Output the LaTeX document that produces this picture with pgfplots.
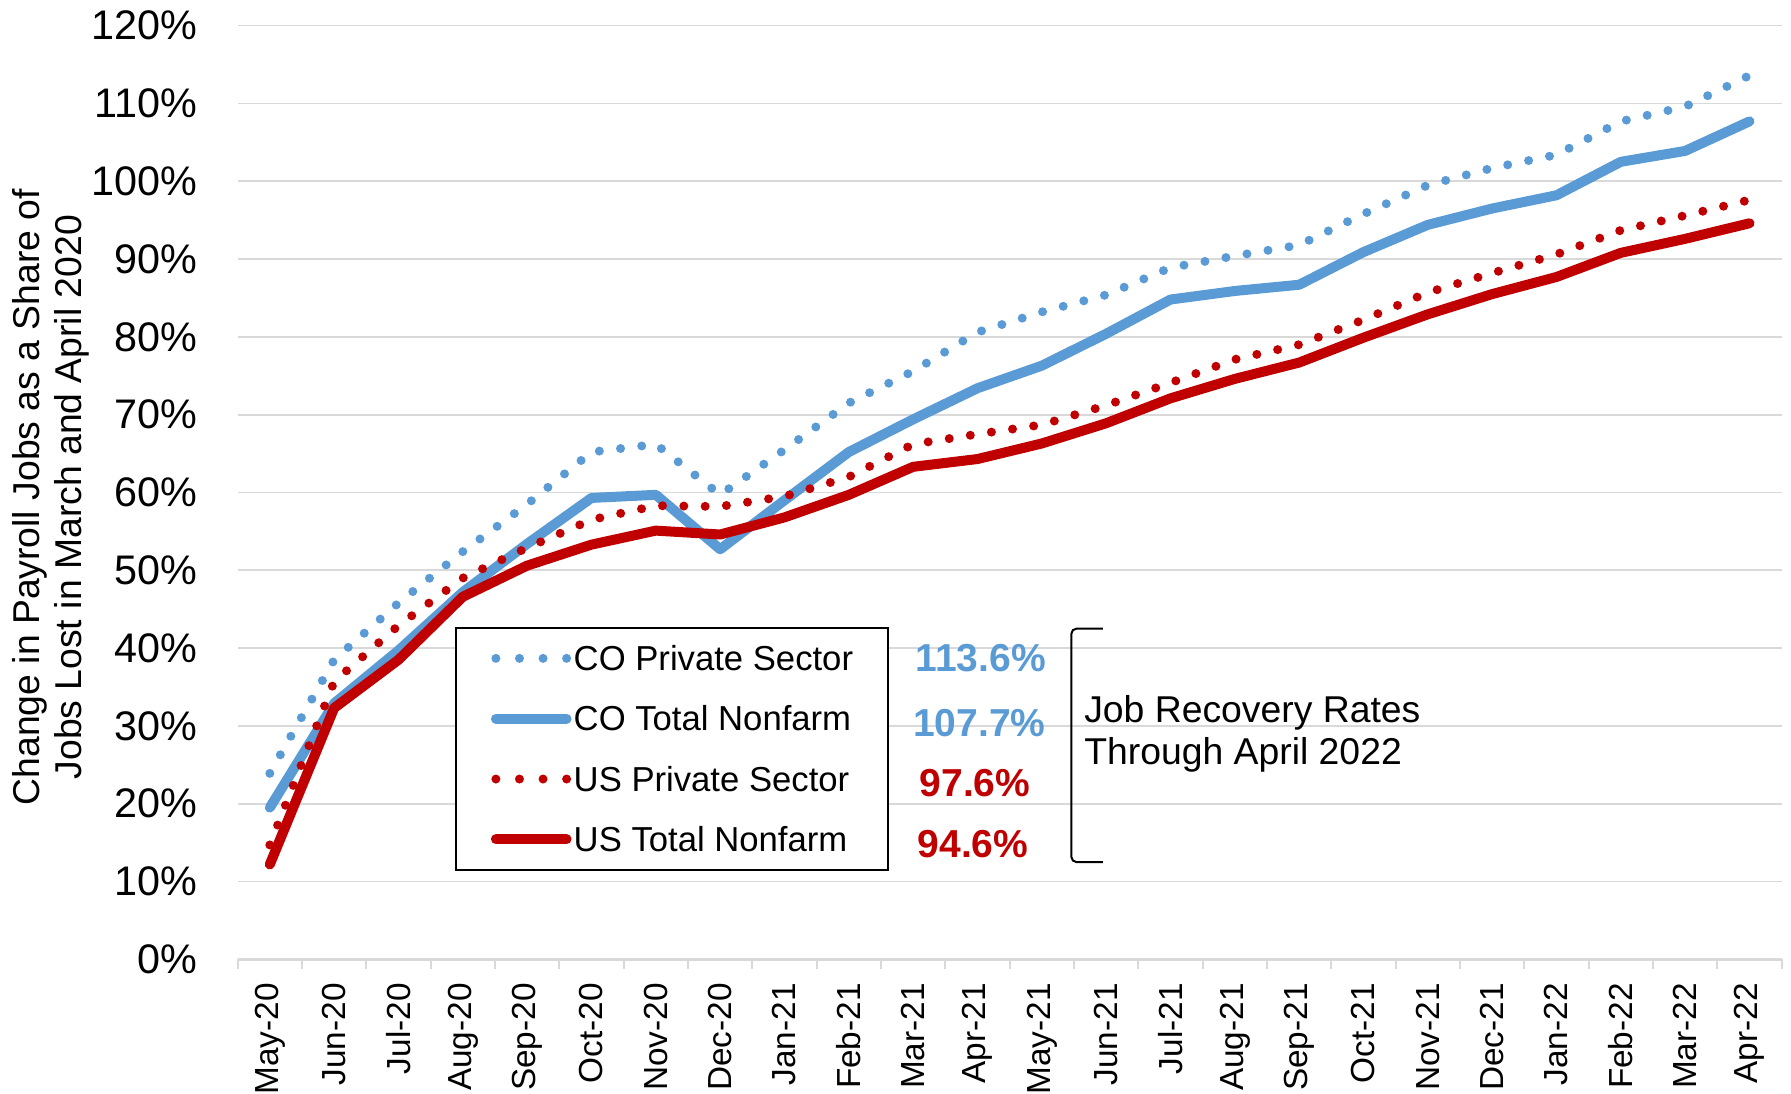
\documentclass[border=0pt]{standalone}
\usepackage{fontspec}
\setmainfont{Liberation Sans}
\usepackage{pgfplots}
\pgfplotsset{compat=1.18}
\definecolor{cblue}{HTML}{5B9BD5}
\definecolor{cred}{HTML}{C00000}
\definecolor{gridc}{HTML}{D9D9D9}
\pgfplotsset{dotleg/.style={legend image code/.code={\draw[##1, dash pattern=on 0pt off 7.07pt] (0pt,0pt) -- (21.4pt,0pt);}}}
\begin{document}
\begin{tikzpicture}
\path[use as bounding box] (-71.3pt,-40.35pt) rectangle (466pt,287.8pt);
\begin{axis}[
  scale only axis, width=463.2pt, height=280.1pt,
  at={(0pt,0pt)}, anchor=south west,
  xmin=-0.5, xmax=23.5, ymin=0, ymax=120,
  axis x line*=bottom, axis y line*=left,
  y axis line style={draw=none},
  x axis line style={draw=gridc, line width=0.8pt},
  tick align=outside,
  major tick length=0pt,
  minor tick length=2.8pt,
  minor tick style={draw=gridc, line width=0.6pt},
  ytick={0,10,...,120},
  yticklabels={0\%,10\%,20\%,30\%,40\%,50\%,60\%,70\%,80\%,90\%,100\%,110\%,120\%},
  yticklabel style={font=\fontsize{12.4}{14}\selectfont, anchor=east, inner xsep=0pt, xshift=-12pt},
  xtick={0,...,23},
  minor xtick={-0.5,0.5,...,23.5},
  xticklabels={May-20,Jun-20,Jul-20,Aug-20,Sep-20,Oct-20,Nov-20,Dec-20,Jan-21,Feb-21,Mar-21,Apr-21,May-21,Jun-21,Jul-21,Aug-21,Sep-21,Oct-21,Nov-21,Dec-21,Jan-22,Feb-22,Mar-22,Apr-22},
  xticklabel style={font=\fontsize{10}{12}\selectfont, rotate=90, anchor=east, inner xsep=7pt, inner ysep=0pt},
  ymajorgrids, major grid style={draw=gridc, line width=0.5pt},
  ylabel={Change in Payroll Jobs as a Share of\\Jobs Lost in March and April 2020},
  ylabel style={align=center, font=\fontsize{11.2}{12.5}\selectfont, at={(axis description cs:-0.1208,0.495)}, anchor=center},
  legend image code/.code={\draw[#1] (0pt,0pt) -- (21.2pt,0pt);},
  legend style={at={(0.1407,0.3559)}, anchor=north west, draw=black, line width=0.6pt, fill=white,
    inner xsep=10.5pt, inner ysep=4.3pt, row sep=8.5pt, column sep=0.6pt,
    font=\fontsize{10.4}{12}\selectfont,
    nodes={inner sep=0pt, text height=8.4pt, text depth=1.2pt}},
  legend cell align=left,
]
\addplot[cblue, line width=2.7pt, line cap=round, dash pattern=on 0pt off 6.4pt, dotleg]
 coordinates {(0,23.9)(1,38.5)(2,45.8)(3,52.4)(4,58.5)(5,65.2)(6,66.2)(7,59.7)(8,65.5)(9,71.5)(10,75.6)(11,80.6)(12,83.2)(13,85.4)(14,88.9)(15,90.4)(16,91.8)(17,95.8)(18,99.5)(19,101.7)(20,103.4)(21,107.7)(22,109.6)(23,113.6)};
\addlegendentry{CO Private Sector}
\addplot[cblue, line width=3pt, line cap=round, line join=round]
 coordinates {(0,19.5)(1,32.9)(2,39.7)(3,47.2)(4,53.4)(5,59.3)(6,59.7)(7,52.7)(8,59.0)(9,65.2)(10,69.4)(11,73.4)(12,76.3)(13,80.4)(14,84.8)(15,85.9)(16,86.7)(17,90.9)(18,94.4)(19,96.5)(20,98.2)(21,102.5)(22,103.9)(23,107.7)};
\addlegendentry{CO Total Nonfarm}
\addplot[cred, line width=2.7pt, line cap=round, dash pattern=on 0pt off 6.4pt, dotleg]
 coordinates {(0,14.7)(1,35.7)(2,42.9)(3,49.0)(4,52.9)(5,56.5)(6,58.3)(7,58.2)(8,59.5)(9,62.0)(10,66.2)(11,67.5)(12,68.7)(13,71.2)(14,74.1)(15,77.1)(16,79.0)(17,82.2)(18,85.7)(19,88.2)(20,90.6)(21,93.7)(22,95.6)(23,97.6)};
\addlegendentry{US Private Sector}
\addplot[cred, line width=3pt, line cap=round, line join=round]
 coordinates {(0,12.2)(1,32.3)(2,38.5)(3,46.6)(4,50.6)(5,53.3)(6,55.1)(7,54.6)(8,56.8)(9,59.7)(10,63.3)(11,64.3)(12,66.3)(13,68.9)(14,72.1)(15,74.6)(16,76.7)(17,79.9)(18,82.9)(19,85.5)(20,87.7)(21,90.8)(22,92.6)(23,94.6)};
\addlegendentry{US Total Nonfarm}
\node[text=cblue, font=\bfseries\fontsize{11.7}{14}\selectfont] at (axis cs:11.05,38.74) {113.6\%};
\node[text=cblue, font=\bfseries\fontsize{11.7}{14}\selectfont] at (axis cs:11.03,30.4) {107.7\%};
\node[text=cred, font=\bfseries\fontsize{11.7}{14}\selectfont] at (axis cs:10.96,22.6) {97.6\%};
\node[text=cred, font=\bfseries\fontsize{11.7}{14}\selectfont] at (axis cs:10.93,14.8) {94.6\%};
\draw[black, line width=0.6pt, rounded corners=1.5pt] (axis cs:12.95,42.5) -- (axis cs:12.46,42.5) -- (axis cs:12.46,12.5) -- (axis cs:12.95,12.5);
\node[anchor=west, align=left, inner sep=0pt, font=\fontsize{11.2}{12.7}\selectfont] at (axis cs:12.65,29.0) {Job Recovery Rates\\Through April 2022};
\end{axis}
\end{tikzpicture}
\end{document}
